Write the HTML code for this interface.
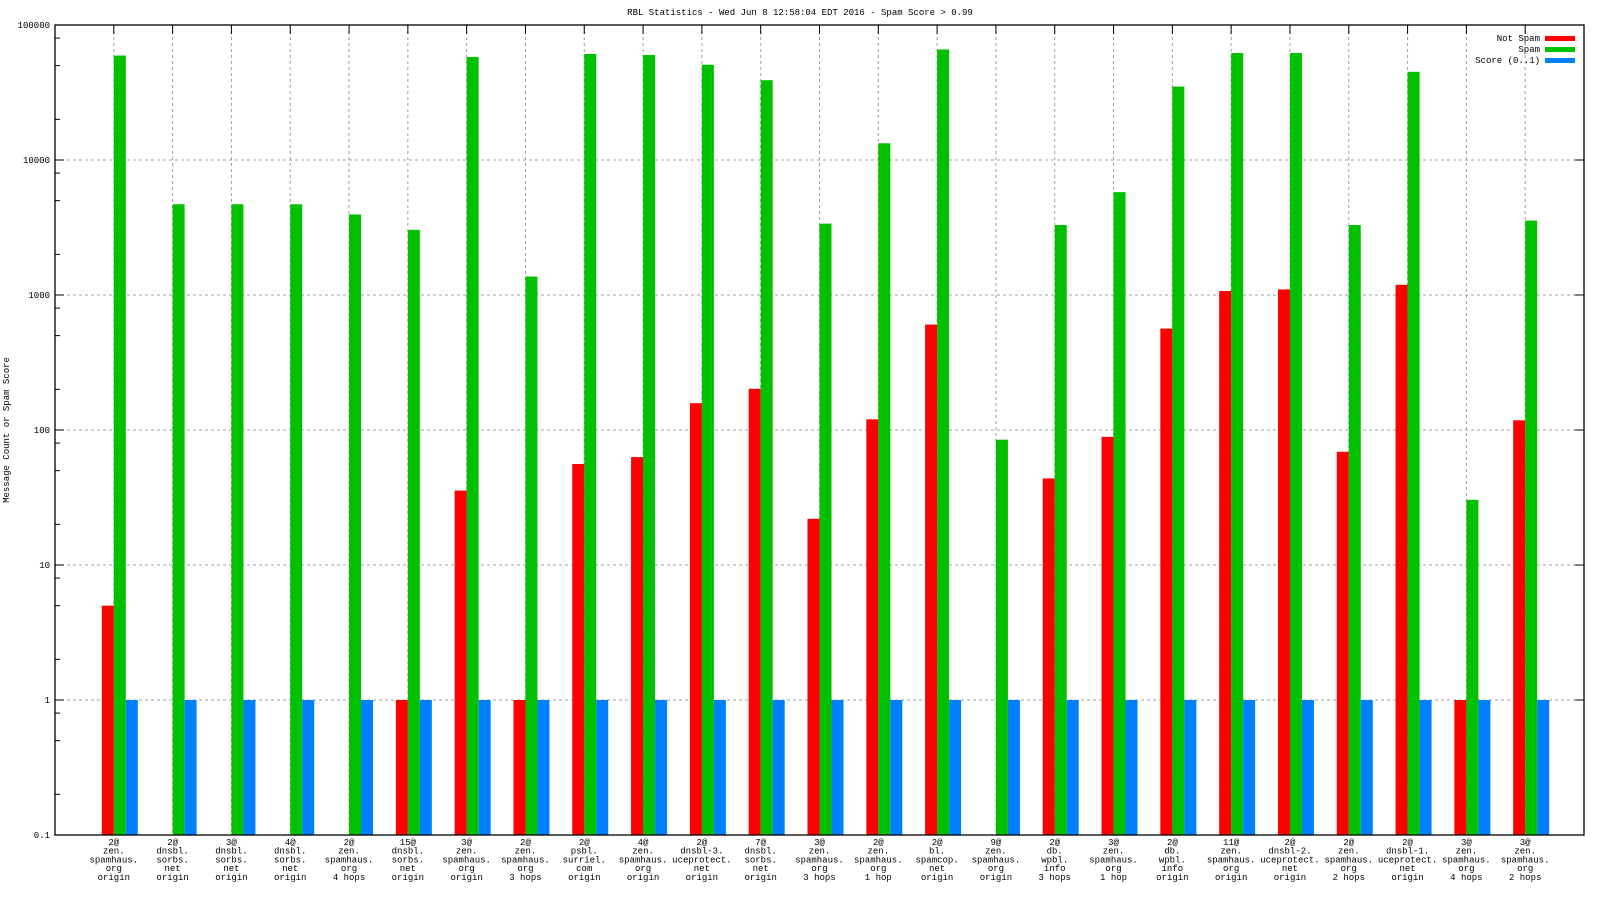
<!DOCTYPE html>
<html><head><meta charset="utf-8"><style>
body{margin:0;background:#fff;}
svg{display:block;font-family:"Liberation Mono","DejaVu Sans Mono",monospace;}
text{font-size:9px;fill:#000;}
</style></head><body>
<svg id="chart" width="1600" height="900" xmlns="http://www.w3.org/2000/svg">
<text x="800" y="15" text-anchor="middle">RBL Statistics - Wed Jun  8 12:58:04 EDT 2016 - Spam Score &gt; 0.99</text>
<text transform="translate(9,430) rotate(-90)" text-anchor="middle">Message Count or Spam Score</text>
<g id="grid"></g><g id="bars"></g><g id="axes"></g><g id="labels"></g>
<g>
<text x="1540" y="41" text-anchor="end">Not Spam</text><rect x="1545" y="36" width="30" height="5" fill="#ff0000"/>
<text x="1540" y="52" text-anchor="end">Spam</text><rect x="1545" y="47" width="30" height="5" fill="#00c000"/>
<text x="1540" y="63" text-anchor="end">Score (0..1)</text><rect x="1545" y="58" width="30" height="5" fill="#0080ff"/>
</g>
</svg>
<script>
const categories=[
["2@","zen.","spamhaus.","org","origin"],["2@","dnsbl.","sorbs.","net","origin"],["3@","dnsbl.","sorbs.","net","origin"],["4@","dnsbl.","sorbs.","net","origin"],["2@","zen.","spamhaus.","org","4 hops"],
["15@","dnsbl.","sorbs.","net","origin"],["3@","zen.","spamhaus.","org","origin"],["2@","zen.","spamhaus.","org","3 hops"],["2@","psbl.","surriel.","com","origin"],["4@","zen.","spamhaus.","org","origin"],
["2@","dnsbl-3.","uceprotect.","net","origin"],["7@","dnsbl.","sorbs.","net","origin"],["3@","zen.","spamhaus.","org","3 hops"],["2@","zen.","spamhaus.","org","1 hop"],["2@","bl.","spamcop.","net","origin"],
["9@","zen.","spamhaus.","org","origin"],["2@","db.","wpbl.","info","3 hops"],["3@","zen.","spamhaus.","org","1 hop"],["2@","db.","wpbl.","info","origin"],["11@","zen.","spamhaus.","org","origin"],
["2@","dnsbl-2.","uceprotect.","net","origin"],["2@","zen.","spamhaus.","org","2 hops"],["2@","dnsbl-1.","uceprotect.","net","origin"],["3@","zen.","spamhaus.","org","4 hops"],["3@","zen.","spamhaus.","org","2 hops"]];
const notSpam=[5,0,0,0,0,1,35.6,1,56,63,158,202,22,120,604,0,43.8,89,564,1070,1100,69,1190,1,118];
const spam=[59400,4700,4700,4700,3950,3040,58000,1370,61000,60000,50800,39000,3380,13300,65900,84.8,3300,5780,35000,62000,62000,3300,45000,30.4,3560];
const score=[1,1,1,1,1,1,1,1,1,1,1,1,1,1,1,1,1,1,1,1,1,1,1,1,1];
const yTicks=[0.1,1,10,100,1000,10000,100000];
const yTickLabels=["0.1","1","10","100","1000","10000","100000"];

const L=55,R=1584,T=25,B=835;
const slot=(R-L)/(categories.length+1), bw=12;
const y=v=>B-(Math.log10(v)-Math.log10(0.1))/6*(B-T);
const xc=i=>L+slot*(i+1);
const NS="http://www.w3.org/2000/svg";
function mk(tag,attrs,parent){const e=document.createElementNS(NS,tag);for(const k in attrs)e.setAttribute(k,attrs[k]);document.getElementById(parent).appendChild(e);return e;}
yTicks.forEach((t,k)=>{
  if(k>0&&k<yTicks.length-1){const g=mk("line",{x1:L,x2:R,y1:y(t),y2:y(t),stroke:"#a0a0a0","stroke-dasharray":"3,3"},"grid");
  
  }
  const tk=mk("line",{x1:L,x2:L+9,y1:y(t),y2:y(t),stroke:"#000"},"axes");
  
  
  const tk2=mk("line",{x1:R-9,x2:R,y1:y(t),y2:y(t),stroke:"#000"},"axes");
  
  
  const tl=mk("text",{x:L-5,y:y(t)+3,"text-anchor":"end"},"axes");tl.textContent=yTickLabels[k];
  
  
  if(k<yTicks.length-1)[2,5,8].forEach(m=>{const mt=mk("line",{x1:L,x2:L+5,y1:y(t*m),y2:y(t*m),stroke:"#000"},"axes");
    
    });
});
categories.forEach((c,i)=>{
  const x=xc(i);
  const g=mk("line",{x1:x,x2:x,y1:T,y2:B,stroke:"#a0a0a0","stroke-dasharray":"3,3"},"grid");
  
  
  const t1=mk("line",{x1:x,x2:x,y1:T,y2:T+9,stroke:"#000"},"axes");
  
  
  const series=[[notSpam,"#ff0000",-bw,"not-spam"],[spam,"#00c000",0,"spam"],[score,"#0080ff",bw,"score"]];
  series.forEach(([arr,col,off,nm])=>{
    const v=arr[i]; if(!(v>0.1))return;
    const r=mk("rect",{x:x+off,y:y(v),width:bw,height:B-y(v),fill:col},"bars");
    
    
  });
  const tx=mk("text",{x:x,y:B+10,"text-anchor":"middle"},"labels");
  
  
  c.forEach((ln,j)=>{const ts=document.createElementNS(NS,"tspan");ts.setAttribute("x",x);ts.setAttribute("dy",j?8.7:0);ts.textContent=ln;tx.appendChild(ts);});
});
const fr=mk("rect",{x:L,y:T,width:R-L,height:B-T,fill:"none",stroke:"#000","stroke-width":1.3},"axes");


</script>
</body></html>
